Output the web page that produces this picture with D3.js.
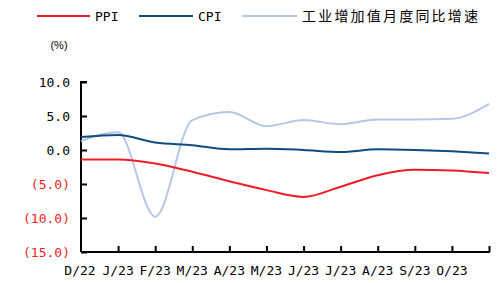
<!DOCTYPE html>
<html>
<head>
<meta charset="utf-8">
<script src="https://cdn.jsdelivr.net/npm/d3@7"></script>
<style>
  body { margin: 0; background: #fff; }
  svg { display: block; }
  .tick-lbl { font-family: "DejaVu Sans Mono", monospace; font-size: 13px; }
</style>
</head>
<body>
<div id="chart"></div>
<script>
// months on the x axis (Dec 2022 .. Nov 2023)
const months = ["D/22","J/23","F/23","M/23","A/23","M/23","J/23","J/23","A/23","S/23","O/23","N/23"]
// the last tick has no label in the picture
const monthLabels = ["D/22","J/23","F/23","M/23","A/23","M/23","J/23","J/23","A/23","S/23","O/23",""]
const ppi = [-1.4, -1.4, -2.0, -3.2, -4.6, -5.9, -6.9, -5.4, -3.7, -2.9, -3.0, -3.4]
const cpi = [1.9, 2.2, 1.1, 0.7, 0.1, 0.2, 0.0, -0.3, 0.1, 0.0, -0.2, -0.5]
const indGrowth = [1.3, 2.6, -9.8, 4.4, 5.6, 3.5, 4.4, 3.8, 4.5, 4.5, 4.6, 6.8]
const yTicks = [10, 5, 0, -5, -10, -15]
const yTickLabels = ["10.0", "5.0", "0.0", "(5.0)", "(10.0)", "(15.0)"]
const seriesNames = ["PPI", "CPI", "工业增加值月度同比增速"]

const W = 497, H = 283
const LEFT = 81, RIGHT = 489, TOP = 82, BOTTOM = 252

const svg = d3.select("#chart").append("svg")
  .attr("width", W)
  .attr("height", H)

const x = d3.scalePoint().domain(d3.range(months.length)).range([LEFT, RIGHT])
const y = d3.scaleLinear().domain([-15, 10]).range([BOTTOM, TOP])

// y axis, ticks pointing inward
const yAxis = svg.append("g")
  .attr("transform", `translate(${LEFT},0)`)
  .call(d3.axisRight(y).tickValues(yTicks).tickSize(6).tickFormat(""))
yAxis.select(".domain").attr("stroke", "#000").attr("stroke-width", 2)
  .attr("d", `M6,${TOP}H0V${BOTTOM}`)
yAxis.selectAll(".tick line").attr("stroke", "#000").attr("stroke-width", 2)

svg.append("g").selectAll("text")
  .data(yTicks)
  .join("text")
  .attr("class", "tick-lbl")
  .attr("x", 70)
  .attr("y", d => y(d))
  .attr("dy", "0.36em")
  .attr("text-anchor", "end")
  .attr("fill", d => d < 0 ? "#ee1c25" : "#000")
  .text((d, i) => yTickLabels[i])

// x axis, ticks pointing up
const xAxis = svg.append("g")
  .attr("transform", `translate(0,${BOTTOM})`)
  .call(d3.axisTop(x).tickSize(6).tickFormat(""))
xAxis.select(".domain").attr("stroke", "#000").attr("stroke-width", 2)
  .attr("d", `M${LEFT},0H${RIGHT + 1}`)
xAxis.selectAll(".tick line").attr("stroke", "#000").attr("stroke-width", 2)
xAxis.selectAll(".tick").filter(d => d === 0).remove()

svg.append("g").selectAll("text")
  .data(monthLabels)
  .join("text")
  .attr("class", "tick-lbl")
  .attr("x", (d, i) => x(i) + (i === 0 ? -1 : 0))
  .attr("y", 275)
  .attr("text-anchor", "middle")
  .attr("fill", "#000")
  .text(d => d)

svg.append("text")
  .attr("x", 59)
  .attr("y", 49)
  .attr("text-anchor", "middle")
  .attr("font-family", "Liberation Sans, sans-serif")
  .attr("font-size", "11px")
  .attr("fill", "#000")
  .text("(%)")

// lines
const line = d3.line()
  .x((d, i) => x(i))
  .y(d => y(d))
  .curve(d3.curveMonotoneX)

const series = [
  { values: indGrowth, color: "#b4c7e7" },
  { values: cpi, color: "#0f4c81" },
  { values: ppi, color: "#ee1c25" }
]
series.forEach(s => {
  svg.append("path")
    .attr("d", line(s.values))
    .attr("fill", "none")
    .attr("stroke", s.color)
    .attr("stroke-width", 2)
})

// legend
const legend = [
  { name: seriesNames[0], color: "#ee1c25", x1: 37, x2: 90, tx: 95 },
  { name: seriesNames[1], color: "#0f4c81", x1: 139, x2: 193, tx: 198 },
  { name: seriesNames[2], color: "#b4c7e7", x1: 242, x2: 297, tx: 302 }
]
legend.forEach((l, i) => {
  svg.append("line")
    .attr("x1", l.x1).attr("x2", l.x2)
    .attr("y1", 16).attr("y2", 16)
    .attr("stroke", l.color)
    .attr("stroke-width", 2)
  const t = svg.append("text")
    .attr("x", l.tx)
    .attr("y", 16)
    .attr("dy", "0.36em")
    .attr("fill", "#000")
    .text(l.name)
  if (i < 2) {
    t.attr("class", "tick-lbl")
  } else {
    t.attr("font-family", "Noto Sans CJK SC, sans-serif")
      .attr("font-size", "14px")
      .attr("textLength", 176)
      .attr("lengthAdjust", "spacing")
  }
})
</script>
</body>
</html>
